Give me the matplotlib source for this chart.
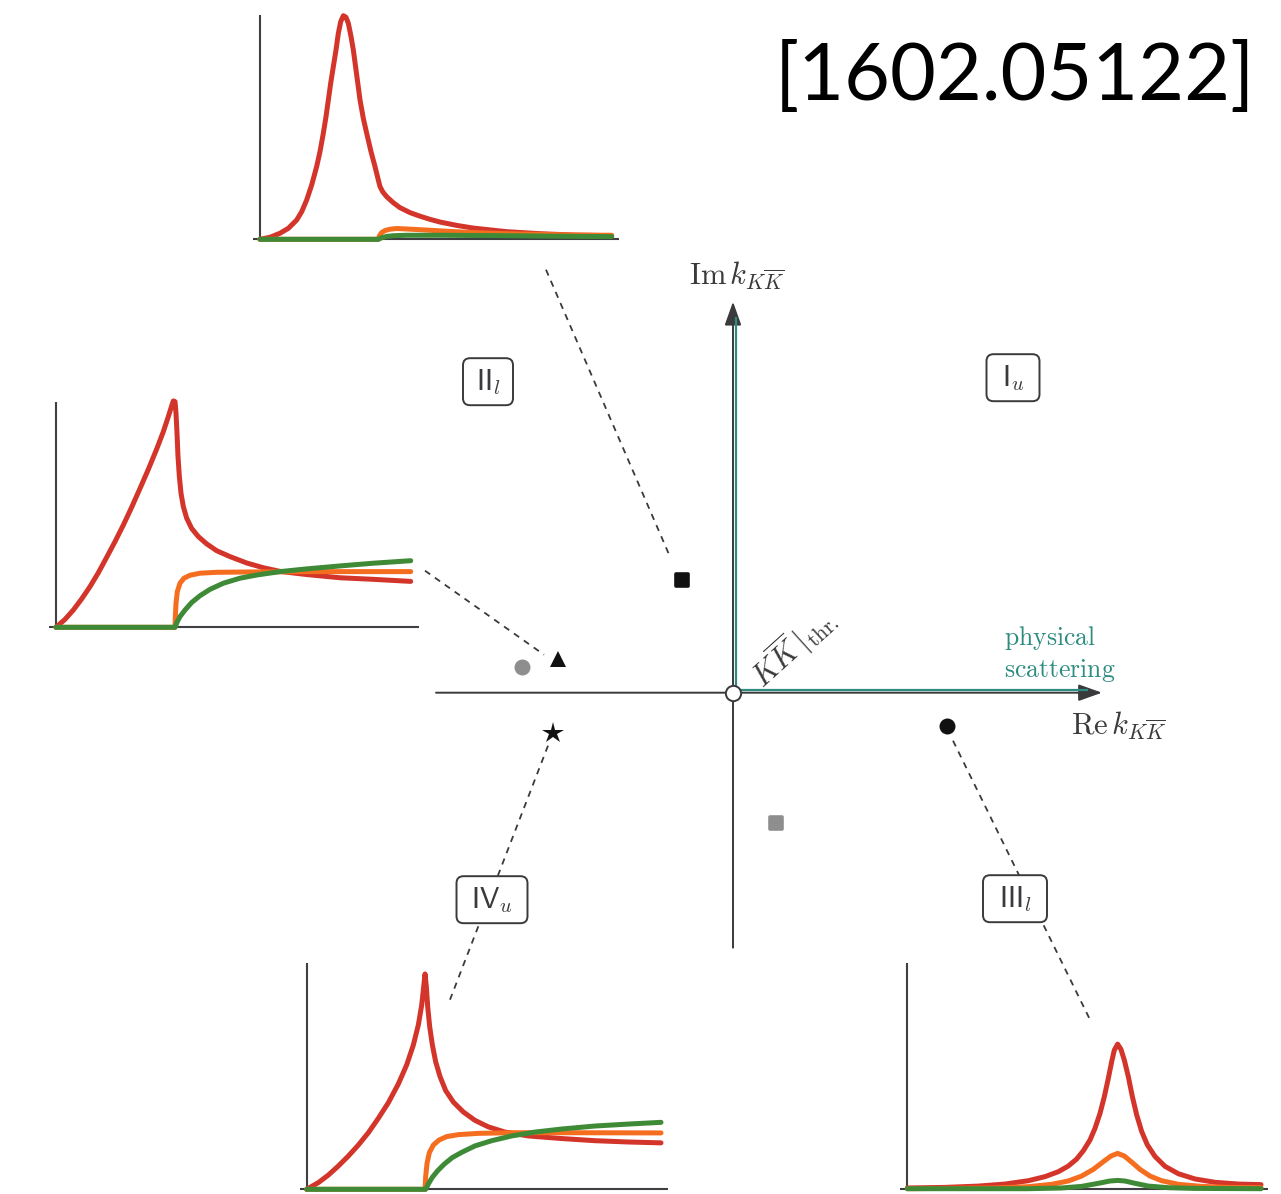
import matplotlib.pyplot as plt
from matplotlib.patches import FancyBboxPatch
from matplotlib.markers import MarkerStyle

plt.rcParams['mathtext.fontset'] = 'cm'

W, H = 1281, 1194
DPI = 100

RED = '#d3352a'
ORANGE = '#f56d1f'
GREEN = '#3e8a36'
TEAL = '#2e8b80'
DARK = '#3a3a3d'

# poles in the complex k plane (units of the drawing grid)
pole_re = [-0.51, -1.75, -2.11, -1.80, 2.14, 0.43]
pole_im = [1.13, 0.34, 0.26, -0.40, -0.33, -1.30]

# Riemann sheet labels
sheet_labels = [r'$\mathsf{I}_u$', r'$\mathsf{II}_l$', r'$\mathsf{III}_l$', r'$\mathsf{IV}_u$']
sheet_re = [2.80, -2.45, 2.82, -2.41]
sheet_im = [3.15, 3.11, -2.06, -2.07]

# line shapes next to the poles: black square
sq_red_x = [0, 0.284, 0.569, 0.806, 1.043, 1.185, 1.327, 1.469, 1.611, 1.706, 1.801, 1.877,
            1.943, 2.009, 2.085, 2.161, 2.227, 2.294, 2.370, 2.445, 2.512, 2.588, 2.654, 2.749,
            2.844, 2.938, 3.033, 3.156, 3.270, 3.365, 3.412, 3.488, 3.602, 3.791, 3.981, 4.265,
            4.550, 4.834, 5.118, 5.592, 6.066, 6.540, 7.014, 7.962, 8.910, 10.0]
sq_red_y = [0, 0.009, 0.027, 0.049, 0.086, 0.123, 0.175, 0.242, 0.324, 0.391, 0.473, 0.547,
            0.621, 0.695, 0.770, 0.844, 0.918, 0.970, 0.997, 0.990, 0.963, 0.904, 0.844, 0.733,
            0.621, 0.539, 0.473, 0.391, 0.324, 0.264, 0.235, 0.212, 0.190, 0.163, 0.141, 0.119,
            0.103, 0.089, 0.077, 0.062, 0.050, 0.042, 0.034, 0.025, 0.019, 0.016]
sq_orange_x = [0, 3.365, 3.393, 3.460, 3.555, 3.697, 3.886, 4.171, 4.645, 5.308, 6.066, 7.014,
               7.962, 8.910, 10.0]
sq_orange_y = [0, 0, 0.015, 0.030, 0.039, 0.045, 0.048, 0.046, 0.042, 0.036, 0.030, 0.025,
               0.022, 0.019, 0.018]
sq_green_x = [0, 3.365, 3.460, 3.602, 3.791, 4.171, 5.118, 7.014, 8.910, 10.0]
sq_green_y = [0, 0, 0.007, 0.013, 0.016, 0.018, 0.018, 0.016, 0.013, 0.012]

# triangle
tr_red_x = [0, 0.253, 0.487, 0.722, 0.956, 1.190, 1.425, 1.659, 1.893, 2.127, 2.362, 2.596,
            2.830, 3.018, 3.158, 3.252, 3.299, 3.346, 3.374, 3.402, 3.430, 3.468, 3.515, 3.580,
            3.674, 3.814, 4.002, 4.236, 4.517, 4.892, 5.361, 5.829, 6.298, 7.048, 7.985, 8.922,
            9.972]
tr_red_y = [0, 0.035, 0.076, 0.125, 0.179, 0.240, 0.308, 0.377, 0.450, 0.528, 0.611, 0.695,
            0.784, 0.861, 0.927, 0.974, 0.996, 0.993, 0.941, 0.853, 0.751, 0.663, 0.589, 0.531,
            0.480, 0.435, 0.399, 0.367, 0.337, 0.311, 0.283, 0.262, 0.246, 0.232, 0.218, 0.211,
            0.202]
tr_orange_x = [0, 3.346, 3.355, 3.374, 3.411, 3.486, 3.599, 3.768, 4.049, 4.517, 5.173, 7.048,
               9.972]
tr_orange_y = [0, 0, 0.047, 0.106, 0.157, 0.194, 0.216, 0.229, 0.238, 0.242, 0.243, 0.245,
               0.245]
tr_green_x = [0, 3.346, 3.411, 3.486, 3.627, 3.814, 4.049, 4.330, 4.705, 5.173, 5.642, 6.298,
              7.048, 7.985, 8.922, 9.972]
tr_green_y = [0, 0, 0.025, 0.047, 0.076, 0.109, 0.139, 0.167, 0.194, 0.216, 0.230, 0.245,
              0.257, 0.270, 0.282, 0.293]

# star
st_red_x = [0, 0.329, 0.611, 0.894, 1.176, 1.458, 1.740, 2.023, 2.305, 2.587, 2.822, 3.010,
            3.151, 3.246, 3.302, 3.340, 3.377, 3.415, 3.471, 3.547, 3.641, 3.763, 3.923, 4.139,
            4.421, 4.751, 5.127, 5.597, 6.256, 7.197, 8.137, 9.078, 10.0]
st_red_y = [0, 0.031, 0.066, 0.108, 0.154, 0.205, 0.262, 0.329, 0.401, 0.488, 0.576, 0.668,
            0.761, 0.853, 0.938, 0.997, 0.938, 0.846, 0.753, 0.668, 0.590, 0.522, 0.457, 0.404,
            0.358, 0.319, 0.289, 0.265, 0.247, 0.235, 0.225, 0.219, 0.215]
st_orange_x = [0, 3.340, 3.358, 3.396, 3.462, 3.575, 3.735, 3.951, 4.280, 4.845, 5.785, 7.197,
               10.0]
st_orange_y = [0, 0, 0.059, 0.120, 0.170, 0.205, 0.228, 0.244, 0.253, 0.259, 0.262, 0.262,
               0.261]
st_green_x = [0, 3.358, 3.434, 3.547, 3.697, 3.885, 4.111, 4.374, 4.751, 5.221, 5.785, 6.444,
              7.197, 8.137, 9.078, 10.0]
st_green_y = [0, 0, 0.025, 0.056, 0.086, 0.117, 0.147, 0.171, 0.201, 0.225, 0.247, 0.265,
              0.279, 0.293, 0.302, 0.310]

# black circle
ci_red_x = [0, 1.065, 2.008, 2.762, 3.421, 3.893, 4.270, 4.552, 4.788, 4.976, 5.165, 5.306,
            5.448, 5.570, 5.683, 5.778, 5.853, 5.947, 6.041, 6.136, 6.249, 6.362, 6.484, 6.626,
            6.786, 7.003, 7.286, 7.663, 8.134, 8.699, 9.359, 10.0]
ci_red_y = [0.005, 0.009, 0.018, 0.032, 0.055, 0.083, 0.117, 0.156, 0.204, 0.261, 0.335, 0.415,
            0.518, 0.633, 0.759, 0.874, 0.954, 0.995, 0.959, 0.885, 0.771, 0.635, 0.509, 0.394,
            0.302, 0.222, 0.154, 0.103, 0.067, 0.044, 0.032, 0.028]
ci_orange_x = [0, 2.479, 3.421, 4.081, 4.552, 4.929, 5.259, 5.542, 5.759, 5.947, 6.136, 6.343,
               6.579, 6.862, 7.191, 7.663, 8.322, 9.076, 10.0]
ci_orange_y = [0, 0.005, 0.014, 0.030, 0.053, 0.087, 0.133, 0.186, 0.225, 0.243, 0.225, 0.183,
               0.133, 0.087, 0.055, 0.030, 0.016, 0.009, 0.007]
ci_green_x = [0, 3.421, 4.364, 4.929, 5.401, 5.731, 5.947, 6.154, 6.437, 6.814, 7.380, 8.134,
              10.0]
ci_green_y = [0, 0, 0.005, 0.016, 0.037, 0.053, 0.057, 0.053, 0.037, 0.018, 0.007, 0.002, 0]


fig = plt.figure(figsize=(W / DPI, H / DPI), dpi=DPI)

# main k plane, 1 unit = 100 px, origin at the KKbar threshold
ax = fig.add_axes([0, 0, 1, 1])
ax.set_xlim(-7.33, 5.48)
ax.set_ylim(-5.013, 6.927)
ax.axis('off')

head = dict(arrowstyle='-|>,head_length=0.9,head_width=0.32', color=DARK, lw=1.4,
            mutation_scale=16, shrinkA=0, shrinkB=0)
ax.annotate('', xy=(3.69, 0), xytext=(-2.97, 0), arrowprops=head, zorder=2)
ax.annotate('', xy=(0, 3.91), xytext=(0, -2.55), arrowprops=head, zorder=2)

# physical scattering region along both positive half axes
ax.plot([0.02, 3.55], [0.03, 0.03], color=TEAL, lw=1.6, solid_capstyle='butt', zorder=3)
ax.plot([0.03, 0.03], [0.02, 3.76], color=TEAL, lw=1.6, solid_capstyle='butt', zorder=3)

ax.plot(0, 0, 'o', ms=11, mfc='white', mec=DARK, mew=1.4, zorder=5)

ax.text(0.04, 4.17, r'$\mathrm{Im}\,k_{K\overline{K}}$', ha='center', va='center',
        fontsize=22, color=DARK)
ax.text(3.86, -0.33, r'$\mathrm{Re}\,k_{K\overline{K}}$', ha='center', va='center',
        fontsize=22, color=DARK)
ax.text(2.71, 0.55, r'$\mathrm{physical}$', ha='left', va='center', fontsize=18.5, color=TEAL)
ax.text(2.71, 0.22, r'$\mathrm{scattering}$', ha='left', va='center', fontsize=18.5, color=TEAL)
ax.text(0.60, 0.46, r'$K\overline{K}\,\vert_{\mathrm{thr.}}$', ha='center', va='center',
        fontsize=22, color=DARK, rotation=42, rotation_mode='anchor')

# dashed connectors from poles to their line shapes
conn_start = [(-1.87, 4.23), (-3.08, 1.22), (-1.85, -0.53), (2.20, -0.48)]
conn_end = [(-0.63, 1.36), (-1.89, 0.38), (-2.83, -3.07), (3.57, -3.27)]
for (x0, y0), (x1, y1) in zip(conn_start, conn_end):
    ax.plot([x0, x1], [y0, y1], color=DARK, lw=1.3, linestyle=(0, (3.5, 3.2)), zorder=1)

box_w = [0.53, 0.50, 0.64, 0.71]
for lab, x, y, w in zip(sheet_labels, sheet_re, sheet_im, box_w):
    ax.add_patch(FancyBboxPatch((x - w / 2, y - 0.235), w, 0.47,
                                boxstyle='round,pad=0,rounding_size=0.07',
                                fc='white', ec=DARK, lw=1.4, zorder=6))
    ax.text(x, y, lab, ha='center', va='center', fontsize=21, color=DARK, zorder=7)

pole_marker = ['s', '^', 'o', '*', 'o', 's']
pole_color = ['#111111', '#111111', '#8e8e8e', '#111111', '#111111', '#8e8e8e']
pole_ms = [9, 12, 11.5, 16, 11.5, 9]
pole_mew = [2.6, 0, 0, 0, 0, 2.6]
for x, y, m, c, s, e in zip(pole_re, pole_im, pole_marker, pole_color, pole_ms, pole_mew):
    ax.plot(x, y, marker=MarkerStyle(m, joinstyle='round'), ms=s, mfc=c, mec=c, mew=e,
            linestyle='none', zorder=8)


def add_inset(ox, oy, sx, sy, ytop, curves):
    # ox, oy: pixel position of the inset origin; sx, sy: pixels per unit
    x_lo, x_hi, y_lo = -0.2, 10.2, -0.04
    left = ox + x_lo * sx
    bottom = oy - y_lo * sy
    a = fig.add_axes([left / W, 1 - bottom / H, (x_hi - x_lo) * sx / W, (ytop - y_lo) * sy / H])
    a.set_xlim(x_lo, x_hi)
    a.set_ylim(y_lo, ytop)
    a.axis('off')
    a.plot([x_lo, x_hi], [0, 0], color='#3f3f44', lw=1.5, solid_capstyle='butt')
    a.plot([0, 0], [0, ytop], color='#3f3f44', lw=1.5, solid_capstyle='butt')
    for (x, y), col in zip(curves, [RED, ORANGE, GREEN]):
        a.plot(x, y, color=col, lw=3.6, solid_capstyle='round', solid_joinstyle='round',
               clip_on=False)
    return a


add_inset(260, 239.3, 35.17, 224.3, 1.0,
          [(sq_red_x, sq_red_y), (sq_orange_x, sq_orange_y), (sq_green_x, sq_green_y)])
add_inset(56, 627.3, 35.57, 227.3, 0.99,
          [(tr_red_x, tr_red_y), (tr_orange_x, tr_orange_y), (tr_green_x, tr_green_y)])
add_inset(306.7, 1189.3, 35.43, 216, 1.046,
          [(st_red_x, st_red_y), (st_orange_x, st_orange_y), (st_green_x, st_green_y)])
add_inset(907.3, 1188.7, 35.37, 145.3, 1.55,
          [(ci_red_x, ci_red_y), (ci_orange_x, ci_orange_y), (ci_green_x, ci_green_y)])

fig.text(1255 / W, 1 - 78 / H, '[1602.05122]', ha='right', va='center', fontsize=57,
         family='Lato', color='black')

fig.savefig('out.png', dpi=DPI, facecolor='white')
